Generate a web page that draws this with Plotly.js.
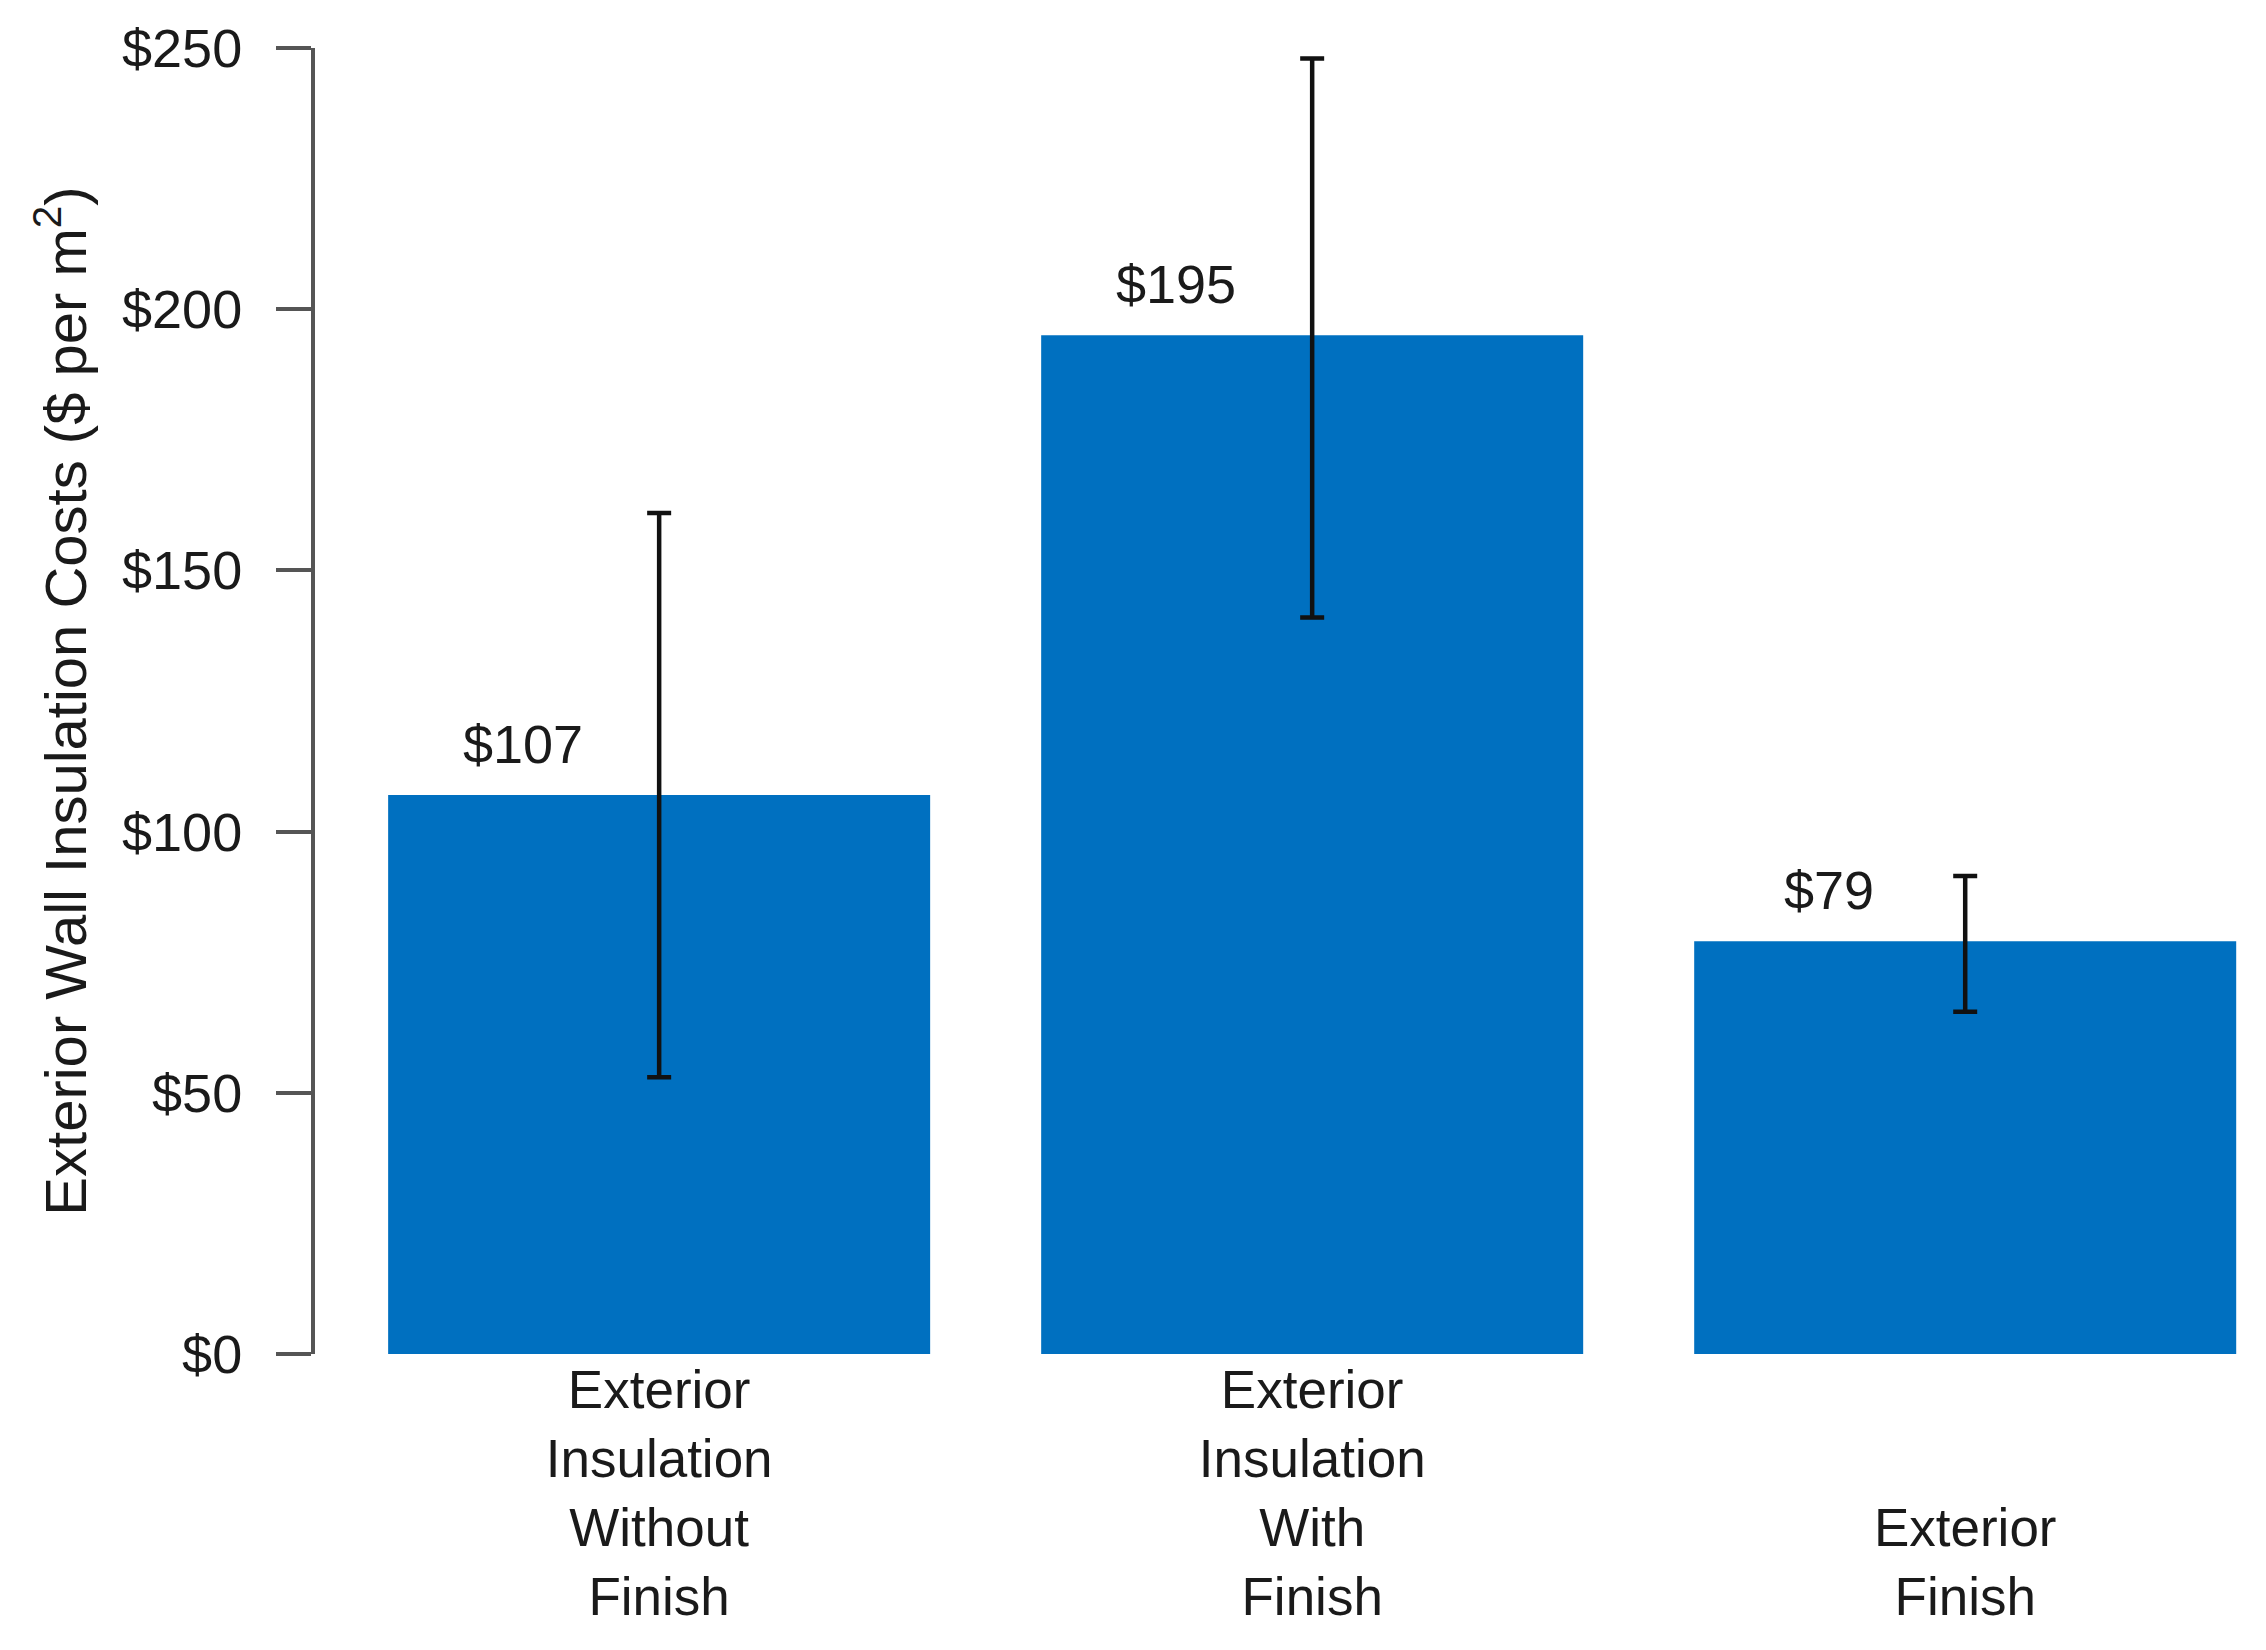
<!DOCTYPE html>
<html>
<head>
<meta charset="utf-8">
<script src="https://cdn.plot.ly/plotly-3.0.1.min.js"></script>
<style>html,body{margin:0;padding:0;background:#fff;}#chart{width:2266px;height:1650px;}</style>
</head>
<body>
<div id="chart"></div>
<script>
// ---- data ----
var categoryLines = [
  ["Exterior", "Insulation", "Without", "Finish"],
  ["Exterior", "Insulation", "With", "Finish"],
  ["Exterior", "Finish"]
];
var costMean  = [107, 195, 79];
var costUpper = [161, 248, 91.5];
var costLower = [53, 141, 65.5];
var yTickVals = [0, 50, 100, 150, 200, 250];
var yTickText = ["$0", "$50", "$100", "$150", "$200", "$250"];
var yTitle = "Exterior Wall Insulation Costs ($ per m<sup>2</sup>)";

// ---- build ----
var font = "Liberation Sans, Arial, sans-serif";
var catFontSize = 53;
var maxLines = Math.max.apply(null, categoryLines.map(function(l){return l.length;}));
var xIdx = categoryLines.map(function(_, i){ return i; });
var fullIdx = [], fullText = [], shortIdx = [], shortText = [];
categoryLines.forEach(function(lines, i){
  if (lines.length === maxLines) { fullIdx.push(i); fullText.push(lines.join("<br>")); }
  else { shortIdx.push(i); shortText.push(lines.join("<br>")); }
});
var shortLines = shortIdx.length ? categoryLines[shortIdx[0]].length : maxLines;
var errPlus = costMean.map(function(v, i){ return costUpper[i] - v; });
var errMinus = costMean.map(function(v, i){ return v - costLower[i]; });

var trace = {
  type: "bar",
  x: xIdx,
  y: costMean,
  marker: { color: "#0070c0", line: { width: 0 } },
  error_y: {
    type: "data",
    symmetric: false,
    array: errPlus,
    arrayminus: errMinus,
    color: "#111111",
    thickness: 4.5,
    width: 12
  },
  hoverinfo: "skip"
};
// invisible helper trace so the second x axis is drawn
var helper = {
  type: "scatter", mode: "markers", x: [], y: [], xaxis: "x2", yaxis: "y",
  hoverinfo: "skip", showlegend: false
};

var annotations = costMean.map(function(v, i){
  return {
    x: i - 0.208, y: v, xref: "x", yref: "y",
    text: "$" + v, showarrow: false,
    xanchor: "center", yanchor: "middle", yshift: 51,
    font: { family: font, size: 54, color: "#1a1a1a" }
  };
});

var xRange = [-0.527, 2.43];
var layout = {
  width: 2266, height: 1650,
  paper_bgcolor: "#ffffff", plot_bgcolor: "#ffffff",
  margin: { l: 315, r: 20, t: 48, b: 296, pad: 0 },
  showlegend: false,
  bargap: 0.17,
  xaxis: {
    range: xRange,
    tickmode: "array",
    tickvals: fullIdx,
    ticktext: fullText,
    ticks: "",
    showline: false, showgrid: false, zeroline: false,
    tickfont: { family: font, size: catFontSize, color: "#1a1a1a" },
    automargin: false
  },
  xaxis2: {
    overlaying: "x", side: "bottom", anchor: "y",
    range: xRange,
    tickmode: "array",
    tickvals: shortIdx,
    ticktext: shortText,
    ticks: "",
    ticklabelstandoff: Math.round((maxLines - shortLines) * 1.3 * catFontSize),
    showline: false, showgrid: false, zeroline: false,
    tickfont: { family: font, size: catFontSize, color: "#1a1a1a" },
    automargin: false
  },
  yaxis: {
    range: [0, 250],
    tickmode: "array",
    tickvals: yTickVals,
    ticktext: yTickText,
    ticks: "outside", ticklen: 35, tickwidth: 4, tickcolor: "#555555",
    ticklabelstandoff: 23,
    showline: true, linecolor: "#555555", linewidth: 4,
    showgrid: false, zeroline: false,
    tickfont: { family: font, size: 54, color: "#1a1a1a" },
    title: { text: yTitle, font: { family: font, size: 58, color: "#1a1a1a" }, standoff: 18 },
    automargin: false
  },
  annotations: annotations
};

Plotly.newPlot("chart", [trace, helper], layout, { displayModeBar: false, staticPlot: true });
</script>
</body>
</html>
